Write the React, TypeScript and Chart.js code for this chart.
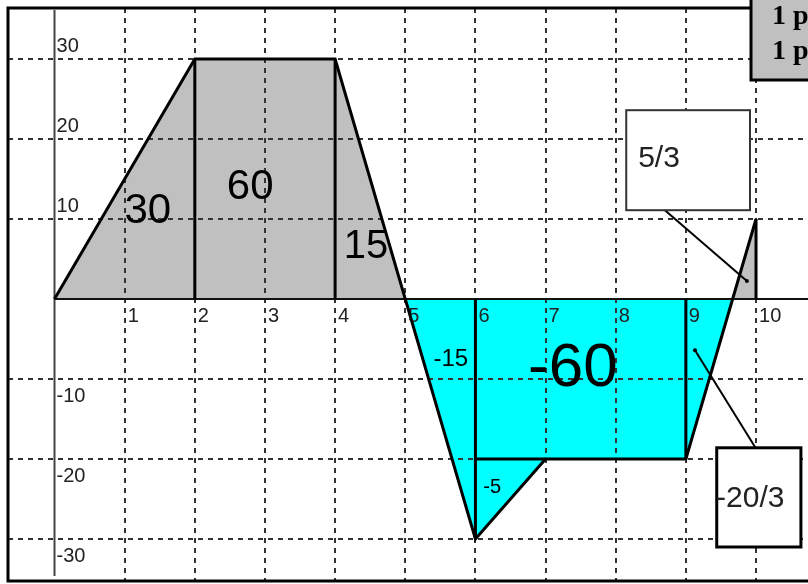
import React, { useEffect, useRef } from "react";
import { Chart, registerables } from "chart.js";

Chart.register(...registerables);

// ---- data ----
const timeS = [0, 2, 4, 6, 7, 9, 10];
const velocity = [0, 30, 30, -30, -20, -20, 10];
const dividerX = [2, 4, 6, 9, 10];
const dividerTop = [30, 30, -30, -20, 10];
const splitX = [6, 7];
const splitY = [-20, -20];
const xTickValues = [1, 2, 3, 4, 5, 6, 7, 8, 9, 10];
const yTickValues = [30, 20, 10, -10, -20, -30];
const areaTexts = ["30", "60", "15", "-15", "-60", "-5"];
const areaX = [1.33, 2.79, 4.44, 5.65, 7.39, 6.24];
const areaY = [11, 14, 6.5, -7.5, -8.7, -23.5];
const calloutTexts = ["5/3", "-20/3"];
const calloutTextX = [8.32, 9.43];
const calloutTextY = [17.5, -25];
const calloutBoxX = [[8.15, 9.914], [9.44, 10.64]];
const calloutBoxY = [[23.6, 11.1], [-18.6, -31]];
const calloutLineX = [[8.66, 9.87], [9.986, 9.13]];
const calloutLineY = [[11.4, 2.25], [-18.5, -6.4]];
const legendLines = ["1 p", "1 p"];

// ---- styles ----
const areaFont = [42, 42, 40, 24, 62, 20];
const SANS = '"Liberation Sans", Arial, sans-serif';

const pts = (xs: number[], ys: number[]) => xs.map((x, i) => ({ x, y: ys[i] }));

const overlay = {
  id: "overlay",
  afterDatasetDraw(chart: any, args: any) {
    if (args.index !== 0) return;
    const ctx = chart.ctx;
    const xs = chart.scales.x;
    const ys = chart.scales.y;
    const a = chart.chartArea;
    ctx.save();
    // dashed grid
    ctx.strokeStyle = "#333";
    ctx.lineWidth = 2;
    ctx.setLineDash([5, 5]);
    for (const v of xTickValues) {
      const px = Math.round(xs.getPixelForValue(v));
      ctx.beginPath();
      ctx.moveTo(px, a.top);
      ctx.lineTo(px, a.bottom);
      ctx.stroke();
    }
    for (const v of yTickValues) {
      const py = Math.round(ys.getPixelForValue(v));
      ctx.beginPath();
      ctx.moveTo(a.left, py);
      ctx.lineTo(a.right, py);
      ctx.stroke();
    }
    ctx.setLineDash([]);
    // axes
    const x0 = xs.getPixelForValue(0);
    const y0 = ys.getPixelForValue(0);
    ctx.strokeStyle = "#444";
    ctx.lineWidth = 2;
    ctx.beginPath();
    ctx.moveTo(x0, a.top + 2);
    ctx.lineTo(x0, a.bottom - 6);
    ctx.stroke();
    ctx.strokeStyle = "#111";
    ctx.beginPath();
    ctx.moveTo(x0, y0);
    ctx.lineTo(a.right, y0);
    ctx.stroke();
    // tick labels
    ctx.fillStyle = "#222";
    ctx.font = `20px ${SANS}`;
    ctx.textAlign = "left";
    ctx.textBaseline = "middle";
    for (const v of xTickValues) {
      ctx.fillText(String(v), xs.getPixelForValue(v) + 3, y0 + 17);
    }
    for (const v of yTickValues) {
      const py = ys.getPixelForValue(v);
      ctx.fillText(String(v), x0 + 2, v > 0 ? py - 13 : py + 17);
    }
    ctx.restore();
  },
  afterDatasetsDraw(chart: any) {
    const ctx = chart.ctx;
    const xs = chart.scales.x;
    const ys = chart.scales.y;
    const a = chart.chartArea;
    ctx.save();
    ctx.fillStyle = "#000";
    ctx.textAlign = "center";
    ctx.textBaseline = "middle";
    areaTexts.forEach((t, i) => {
      ctx.font = `${areaFont[i]}px ${SANS}`;
      ctx.fillText(t, xs.getPixelForValue(areaX[i]), ys.getPixelForValue(areaY[i]));
    });
    // callouts
    calloutTexts.forEach((t, i) => {
      const lx1 = xs.getPixelForValue(calloutLineX[i][0]);
      const ly1 = ys.getPixelForValue(calloutLineY[i][0]);
      const lx2 = xs.getPixelForValue(calloutLineX[i][1]);
      const ly2 = ys.getPixelForValue(calloutLineY[i][1]);
      ctx.strokeStyle = "#000";
      ctx.lineWidth = 2;
      ctx.beginPath();
      ctx.moveTo(lx1, ly1);
      ctx.lineTo(lx2, ly2);
      ctx.stroke();
      ctx.fillStyle = "#000";
      ctx.beginPath();
      ctx.arc(lx2, ly2, 2, 0, Math.PI * 2);
      ctx.fill();
      const bx1 = xs.getPixelForValue(calloutBoxX[i][0]);
      const bx2 = xs.getPixelForValue(calloutBoxX[i][1]);
      const by1 = ys.getPixelForValue(calloutBoxY[i][0]);
      const by2 = ys.getPixelForValue(calloutBoxY[i][1]);
      ctx.fillStyle = "#fff";
      ctx.fillRect(bx1, by1, bx2 - bx1, by2 - by1);
      ctx.strokeStyle = i === 0 ? "#333" : "#000";
      ctx.lineWidth = i === 0 ? 2 : 3;
      ctx.strokeRect(bx1, by1, bx2 - bx1, by2 - by1);
      ctx.fillStyle = "#222";
      ctx.font = `30px ${SANS}`;
      ctx.textAlign = "left";
      ctx.fillText(t, xs.getPixelForValue(calloutTextX[i]), ys.getPixelForValue(calloutTextY[i]));
    });
    // frame
    ctx.strokeStyle = "#000";
    ctx.lineWidth = 3;
    ctx.strokeRect(a.left, a.top, a.right - a.left + 10, a.bottom - a.top - 1);
    // top-right box
    ctx.fillStyle = "#c0c0c0";
    ctx.fillRect(751, -5, 70, 85);
    ctx.strokeRect(751, -5, 70, 85);
    ctx.fillStyle = "#000";
    ctx.font = `bold 28px "Liberation Serif", "Times New Roman", serif`;
    ctx.textAlign = "left";
    ctx.textBaseline = "alphabetic";
    legendLines.forEach((t, i) => ctx.fillText(t, 772, 24 + i * 35));
    ctx.restore();
  },
};

export default function App() {
  const ref = useRef<HTMLCanvasElement | null>(null);
  useEffect(() => {
    document.body.style.margin = "0";
    const lineDs = (data: any[], order = 1) => ({
      data,
      borderColor: "#000",
      borderWidth: 3,
      pointRadius: 0,
      fill: false,
      tension: 0,
      order,
    });
    const chart = new Chart(ref.current as HTMLCanvasElement, {
      type: "line",
      data: {
        datasets: [
          {
            data: pts(timeS, velocity),
            borderWidth: 0,
            borderColor: "rgba(0,0,0,0)",
            pointRadius: 0,
            tension: 0,
            fill: { target: "origin", above: "#c0c0c0", below: "#00ffff" },
            order: 5,
          } as any,
          lineDs(pts(timeS, velocity), 1),
          ...dividerX.map((dx, i) => lineDs(pts([dx, dx], [0, dividerTop[i]]), 2)),
          lineDs(pts(splitX, splitY), 2),
        ],
      },
      options: {
        animation: false,
        responsive: false,
        devicePixelRatio: 1,
        layout: { padding: { left: 8, top: 8, right: 0, bottom: 2 } },
        plugins: { legend: { display: false }, tooltip: { enabled: false } },
        scales: {
          x: { type: "linear", min: -0.663, max: 10.741, display: false },
          y: { type: "linear", min: -35.375, max: 36.375, display: false },
        },
      },
      plugins: [overlay],
    });
    return () => chart.destroy();
  }, []);
  return (
    <canvas
      ref={ref}
      width={808}
      height={584}
      style={{ display: "block", width: 808, height: 584, background: "#fff" }}
    />
  );
}
